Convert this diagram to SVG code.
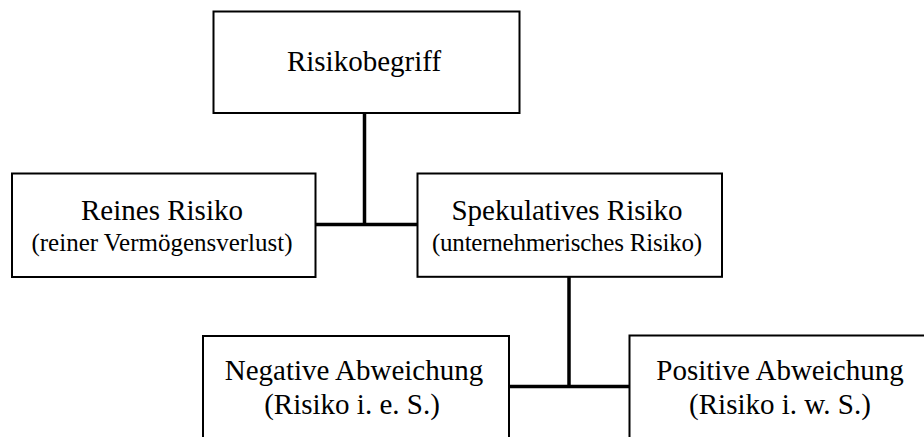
<svg xmlns="http://www.w3.org/2000/svg" width="924" height="437" viewBox="0 0 924 437">
  <style>
    .box { fill: #ffffff; stroke: #000000; stroke-width: 2; }
    .t1 { font-family: "Liberation Serif", "Times New Roman", serif; font-size: 29px; fill: #000000; text-anchor: middle; }
    .t2 { font-family: "Liberation Serif", "Times New Roman", serif; font-size: 25px; fill: #000000; text-anchor: middle; }
    .link { stroke: #000000; stroke-width: 3.5; fill: none; }
  </style>
  <rect width="924" height="437" fill="#ffffff"/>

  <!-- tree connectors -->
  <g id="connectors">
    <line class="link" x1="364.5" y1="113" x2="364.5" y2="224.5"/>
    <line class="link" x1="315.5" y1="224.5" x2="417.5" y2="224.5"/>
    <line class="link" x1="569" y1="277" x2="569" y2="386.5"/>
    <line class="link" x1="509" y1="386.5" x2="629.5" y2="386.5"/>
  </g>

  <g id="risikobegriff">
    <rect class="box" x="213.5" y="11.5" width="306" height="101.5"/>
    <text class="t1" x="364" y="71">Risikobegriff</text>
  </g>

  <g id="reines-risiko">
    <rect class="box" x="12" y="173.5" width="303.5" height="103.5"/>
    <text class="t1" x="162" y="220">Reines Risiko</text>
    <text class="t2" x="162" y="251" textLength="261" lengthAdjust="spacing">(reiner Vermögensverlust)</text>
  </g>

  <g id="spekulatives-risiko">
    <rect class="box" x="417.5" y="173.5" width="304.5" height="103.3"/>
    <text class="t1" x="567" y="220">Spekulatives Risiko</text>
    <text class="t2" x="567" y="251" textLength="270" lengthAdjust="spacing">(unternehmerisches  Risiko)</text>
  </g>

  <g id="negative-abweichung">
    <rect class="box" x="203" y="336" width="306" height="120"/>
    <text class="t1" x="354" y="380">Negative Abweichung</text>
    <text class="t1" x="352" y="414">(Risiko i. e. S.)</text>
  </g>

  <g id="positive-abweichung">
    <rect class="box" x="629.5" y="335.5" width="310" height="120"/>
    <text class="t1" x="780" y="380">Positive Abweichung</text>
    <text class="t1" x="780" y="414">(Risiko i. w. S.)</text>
  </g>
</svg>
